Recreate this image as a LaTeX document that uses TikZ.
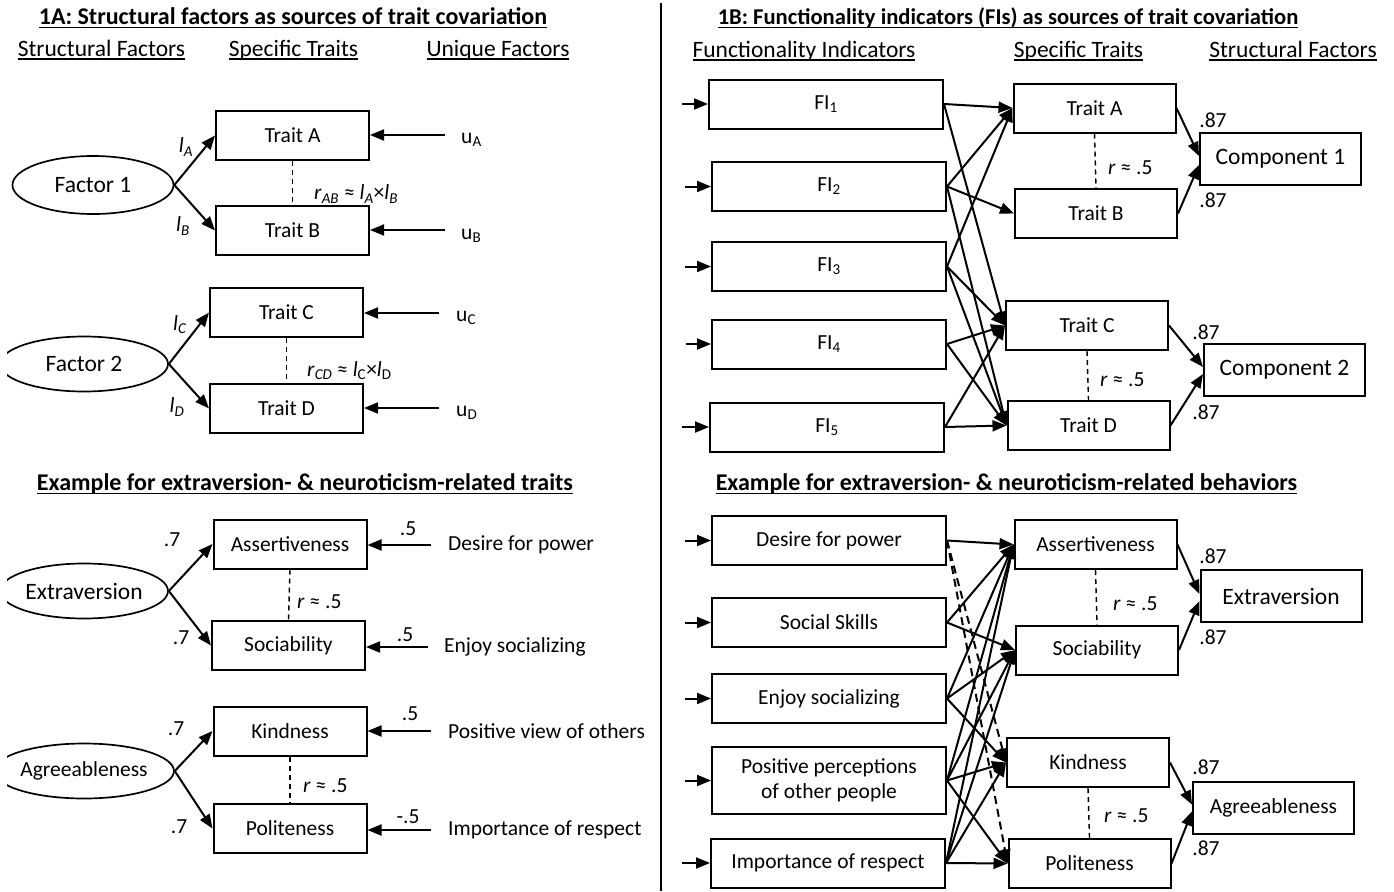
\documentclass[tikz,border=0pt]{standalone}
\usepackage{fontspec}
\setmainfont{Carlito}
\usetikzlibrary{arrows.meta,shapes.geometric,calc}
\newcommand\myul[1]{\setbox0\hbox{#1}\rlap{\rule[-3.6pt]{\wd0}{1.6pt}}\box0}
\tikzset{
  base/.style={font=\fontsize{21.5}{25}\selectfont, inner sep=0pt},
  big/.style={font=\fontsize{23.5}{27}\selectfont, inner sep=0pt},
  ttl/.style={font=\fontsize{24}{27}\selectfont\bfseries, inner sep=0pt},
  hd/.style={font=\fontsize{23.5}{27}\selectfont, inner sep=0pt},
  box/.style={base, draw, line width=2pt, minimum height=49pt},
  tbox/.style={box, minimum width=153pt},
  fbox/.style={box, minimum width=234pt},
  rbox/.style={box, minimum width=162pt},
  cbox/.style={big, draw, line width=2pt, minimum width=161pt, minimum height=52pt},
  ell/.style={big, draw, ellipse, line width=1.7pt, minimum width=168pt, minimum height=55pt},
  arr/.style={line width=2pt, -{Triangle[length=14pt,width=11pt]}},
  darr/.style={arr, dash pattern=on 8pt off 5pt},
  dsh/.style={line width=1.4pt, dash pattern=on 5pt off 4pt},
}
\begin{document}
\begin{tikzpicture}[x=1pt,y=-1pt]
\useasboundingbox (0,0) rectangle (1394,891);
% divider
\draw[line width=1.4pt] (661,3) -- (661,891);

% ================= LEFT TOP =================
\node[ttl] (t1a) at (293,18) {\myul{1A: Structural factors as sources of trait covariation}};
\node[hd] (h1) at (101.5,50) {\myul{Structural Factors}};
\node[hd] (h2) at (293.5,50) {\myul{Specific Traits}};
\node[hd] (h3) at (498,50) {\myul{Unique Factors}};

\begin{scope}
\clip (7,0) rectangle (660,891);
\node[ell, minimum width=161pt, minimum height=58pt] (f1) at (93,185) {Factor 1};
\node[ell] (f2) at (84,364) {Factor 2};
\node[ell] (ex) at (84,591) {Extraversion};
\node[ell, base] (ag) at (84,771) {Agreeableness};
\end{scope}

\node[tbox] (ta) at (292.5,135.5) {Trait A};
\node[tbox] (tb) at (292.5,230.5) {Trait B};
\node[tbox] (tc) at (286.5,312.5) {Trait C};
\node[tbox] (td) at (286.5,408.5) {Trait D};

\draw[arr] (f1.east) -- (ta.west);
\draw[arr] (f1.east) -- (tb.west);
\draw[arr] (f2.east) -- (tc.west);
\draw[arr] (f2.east) -- (td.west);

\node[base] (la) at (186,147) {\textit{l}\textsubscript{\textit{A}}};
\node[base] (lb) at (183,226) {\textit{l}\textsubscript{\textit{B}}};
\node[base] (lc) at (180,325) {\textit{l}\textsubscript{\textit{C}}};
\node[base] (ld) at (177,407) {\textit{l}\textsubscript{\textit{D}}};

\node[base, anchor=west] (ua) at (461,140) {u\textsubscript{A}};
\node[base, anchor=west] (ub) at (461,236) {u\textsubscript{B}};
\node[base, anchor=west] (uc) at (456,318) {u\textsubscript{C}};
\node[base, anchor=west] (ud) at (456,413) {u\textsubscript{D}};
\coordinate (ua0) at (445,135);
\coordinate (ub0) at (445,230);
\coordinate (uc0) at (439,313);
\coordinate (ud0) at (439,408);
\draw[arr] (ua0) -- (ua0 -| ta.east);
\draw[arr] (ub0) -- (ub0 -| tb.east);
\draw[arr] (uc0) -- (uc0 -| tc.east);
\draw[arr] (ud0) -- (ud0 -| td.east);

\draw[dsh] (ta.south) -- (tb.north);
\draw[dsh] (tc.south) -- (td.north);
\node[base, anchor=west] (rab) at (314,194) {\textit{r}\textsubscript{\textit{AB}} ≈ \textit{l}\textsubscript{\textit{A}}×\textit{l}\textsubscript{\textit{B}}};
\node[base, anchor=west] (rcd) at (307,371) {\textit{r}\textsubscript{\textit{CD}} ≈ \textit{l}\textsubscript{C}×\textit{l}\textsubscript{D}};

% ================= LEFT BOTTOM =================
\node[ttl] (t1b) at (305,484) {\myul{Example for extraversion- \& neuroticism-related traits}};

\node[tbox] (as) at (290,544) {Assertiveness};
\node[tbox] (so) at (288.5,645.5) {Sociability};
\node[tbox] (ki) at (290,731) {Kindness};
\node[tbox] (po) at (290,828.5) {Politeness};

\draw[arr] (ex.east) -- (as.west);
\draw[arr] (ex.east) -- (so.west);
\draw[arr] (ag.east) -- (ki.west);
\draw[arr] (ag.east) -- (po.west);

\node[base] (s1) at (172,540) {.7};
\node[base] (s2) at (181,638) {.7};
\node[base] (s3) at (176,729) {.7};
\node[base] (s4) at (179,827) {.7};

\draw[dsh] (as.south) -- (so.north);
\draw[dsh] (ki.south) -- (po.north);
\node[base, anchor=west] (r1) at (297,602) {\textit{r} ≈ .5};
\node[base, anchor=west] (r2) at (303,786) {\textit{r} ≈ .5};

\coordinate (e1) at (431,545);
\coordinate (e2) at (428,647);
\coordinate (e3) at (431,731);
\coordinate (e4) at (431,830);
\draw[arr] (e1) -- (e1 -| as.east);
\draw[arr] (e2) -- (e2 -| so.east);
\draw[arr] (e3) -- (e3 -| ki.east);
\draw[arr] (e4) -- (e4 -| po.east);
\node[base] (w1) at (408,529) {.5};
\node[base] (w2) at (405,635) {.5};
\node[base] (w3) at (410,714) {.5};
\node[base] (w4) at (408,817) {-.5};
\node[base, anchor=west] (x1) at (448,545) {Desire for power};
\node[base, anchor=west] (x2) at (444,647) {Enjoy socializing};
\node[base, anchor=west] (x3) at (448,731) {Positive view of others};
\node[base, anchor=west] (x4) at (448,830) {Importance of respect};

% ================= RIGHT TOP =================
\node[ttl, font=\fontsize{22.6}{26}\selectfont\bfseries] (t2a) at (1008,18) {\myul{1B: Functionality indicators (FIs) as sources of trait covariation}};
\node[hd] (h4) at (804,51) {\myul{Functionality Indicators}};
\node[hd] (h5) at (1078.5,51) {\myul{Specific Traits}};
\node[hd] (h6) at (1293,51) {\myul{Structural Factors}};

\node[fbox] (fi1) at (826,104) {FI\textsubscript{1}};
\node[fbox] (fi2) at (829,186.5) {FI\textsubscript{2}};
\node[fbox] (fi3) at (829,266.5) {FI\textsubscript{3}};
\node[fbox] (fi4) at (829,344) {FI\textsubscript{4}};
\node[fbox] (fi5) at (827,427) {FI\textsubscript{5}};

\foreach \n/\x in {fi1/682,fi2/685,fi3/685,fi4/686,fi5/682}{
  \coordinate (in\n) at (\x,0);
  \draw[arr] (in\n |- \n.west) -- (\n.west);
}

\node[rbox] (trA) at (1094.5,108) {Trait A};
\node[rbox] (trB) at (1096,213.5) {Trait B};
\node[rbox] (trC) at (1087,325.5) {Trait C};
\node[rbox] (trD) at (1088.5,425.5) {Trait D};

\draw[arr] (fi1.east) -- (trA.west);
\draw[arr] (fi1.east) -- (trC.west);
\draw[arr] (fi2.east) -- (trA.west);
\draw[arr] (fi2.east) -- (trB.west);
\draw[arr] (fi2.east) -- (trD.west);
\draw[arr] (fi3.east) -- (trA.west);
\draw[arr] (fi3.east) -- (trC.west);
\draw[arr] (fi3.east) -- (trD.west);
\draw[arr] (fi4.east) -- (trC.west);
\draw[arr] (fi4.east) -- (trD.west);
\draw[arr] (fi5.east) -- (trC.west);
\draw[arr] (fi5.east) -- (trD.west);

\draw[dsh] (trA.south) -- (trB.north);
\draw[dsh] (trC.south) -- (trD.north);
\node[base, anchor=west] (r3) at (1108,168) {\textit{r} ≈ .5};
\node[base, anchor=west] (r4) at (1100,380) {\textit{r} ≈ .5};

\node[cbox] (c1) at (1280.5,159) {Component 1};
\node[cbox] (c2) at (1284.5,370) {Component 2};
\draw[arr] (trA.east) -- ($(c1.west)+(0,-3)$);
\draw[arr] (trB.east) -- ($(c1.west)+(0,6)$);
\draw[arr] (trC.east) -- ($(c2.west)+(0,-3)$);
\draw[arr] (trD.east) -- ($(c2.west)+(0,4)$);
\node[base] (k1) at (1213,120) {.87};
\node[base] (k2) at (1213,200) {.87};
\node[base] (k3) at (1206,332) {.87};
\node[base] (k4) at (1206,412) {.87};

% ================= RIGHT BOTTOM =================
\node[ttl] (t2b) at (1006.5,484) {\myul{Example for extraversion- \& neuroticism-related behaviors}};

\node[fbox] (dp) at (829,540.5) {Desire for power};
\node[fbox] (ss) at (829,622.5) {Social Skills};
\node[fbox] (es) at (829,698.5) {Enjoy socializing};
\node[fbox, minimum height=67pt, align=center] (pp) at (829,780.5) {Positive perceptions\\of other people};
\node[fbox] (ir) at (828,863) {Importance of respect};

\foreach \n/\x in {dp/685,ss/685,es/685,pp/685,ir/682}{
  \coordinate (in\n) at (\x,0);
  \draw[arr] (in\n |- \n.west) -- (\n.west);
}

\node[rbox] (asR) at (1095.5,544.5) {Assertiveness};
\node[rbox] (soR) at (1097,650) {Sociability};
\node[rbox] (kiR) at (1088,762.5) {Kindness};
\node[rbox] (poR) at (1089.5,863.5) {Politeness};

\draw[arr] (dp.east) -- (asR.west);
\draw[darr] (dp.east) -- (kiR.west);
\draw[darr] (dp.east) -- (poR.west);
\draw[arr] (ss.east) -- (asR.west);
\draw[arr] (ss.east) -- (soR.west);
\draw[arr] (es.east) -- (asR.west);
\draw[arr] (es.east) -- (soR.west);
\draw[arr] (es.east) -- (kiR.west);
\draw[arr] (pp.east) -- (asR.west);
\draw[arr] (pp.east) -- (soR.west);
\draw[arr] (pp.east) -- (kiR.west);
\draw[arr] (pp.east) -- (poR.west);
\draw[arr] (ir.east) -- (asR.west);
\draw[arr] (ir.east) -- (soR.west);
\draw[arr] (ir.east) -- (kiR.west);
\draw[arr] (ir.east) -- (poR.west);

\draw[dsh] (asR.south) -- (soR.north);
\draw[dsh] (kiR.south) -- (poR.north);
\node[base, anchor=west] (r5) at (1113,604) {\textit{r} ≈ .5};
\node[base, anchor=west] (r6) at (1104,816) {\textit{r} ≈ .5};

\node[cbox] (exR) at (1281,596) {Extraversion};
\node[cbox, base] (agR) at (1273.5,807.5) {Agreeableness};
\draw[arr] (asR.east) -- ($(exR.west)+(0,-2)$);
\draw[arr] (soR.east) -- ($(exR.west)+(0,5)$);
\draw[arr] (kiR.east) -- ($(agR.west)+(0,-3)$);
\draw[arr] (poR.east) -- ($(agR.west)+(0,4)$);
\node[base] (k5) at (1213,556) {.87};
\node[base] (k6) at (1213,637) {.87};
\node[base] (k7) at (1206,767) {.87};
\node[base] (k8) at (1206,848) {.87};
\end{tikzpicture}
\end{document}
